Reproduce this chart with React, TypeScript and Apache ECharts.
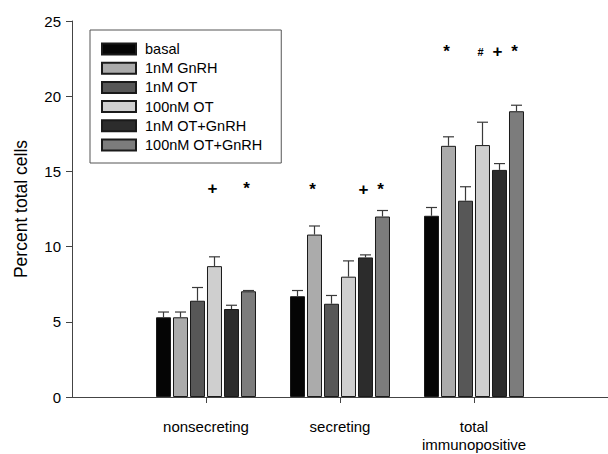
import React, { useEffect, useRef } from "react";
import * as echarts from "echarts";

const categories = ["", "nonsecreting", "secreting", "total\nimmunopositive", ""];
const seriesNames = ["basal", "1nM GnRH", "1nM OT", "100nM OT", "1nM OT+GnRH", "100nM OT+GnRH"];
// values per series for [nonsecreting, secreting, total immunopositive]
const basal = [5.3, 6.7, 12.05];
const gnrh1 = [5.3, 10.8, 16.7];
const ot1 = [6.4, 6.2, 13.05];
const ot100 = [8.7, 8.0, 16.75];
const otGnrh1 = [5.85, 9.28, 15.1];
const otGnrh100 = [7.03, 12.0, 19.0];
// upper error (SEM)
const basalErr = [0.35, 0.38, 0.55];
const gnrh1Err = [0.35, 0.57, 0.6];
const ot1Err = [0.88, 0.55, 0.93];
const ot100Err = [0.62, 1.05, 1.52];
const otGnrh1Err = [0.25, 0.17, 0.42];
const otGnrh100Err = [0.05, 0.4, 0.4];
// significance marks
const basalMarks = ["", "", ""];
const gnrh1Marks = ["", "*", "*"];
const ot1Marks = ["", "", ""];
const ot100Marks = ["+", "", "#"];
const otGnrh1Marks = ["", "+", "+"];
const otGnrh100Marks = ["*", "*", "*"];
// height (data units) at which the marks of each group are written
const markLevels = [13.85, 13.8, 22.95];

const values = [basal, gnrh1, ot1, ot100, otGnrh1, otGnrh100];
const errs = [basalErr, gnrh1Err, ot1Err, ot100Err, otGnrh1Err, otGnrh100Err];
const marks = [basalMarks, gnrh1Marks, ot1Marks, ot100Marks, otGnrh1Marks, otGnrh100Marks];
const colors = ["#050505", "#ababab", "#575757", "#cfcfcf", "#2c2c2c", "#7c7c7c"];

const FONT = "'Liberation Sans', Arial, Helvetica, sans-serif";
const BAR_W = 15;
const PITCH = 17;

export default function App() {
  const ref = useRef<HTMLDivElement>(null);
  useEffect(() => {
    if (!ref.current) return;
    const chart = echarts.init(ref.current, undefined, { renderer: "svg" });
    const barSeries: any[] = seriesNames.map((name, s) => ({
      name,
      type: "bar",
      barWidth: BAR_W,
      barGap: ((PITCH - BAR_W) / BAR_W * 100).toFixed(2) + "%",
      data: ["-", ...values[s], "-"],
      itemStyle: { color: colors[s], borderColor: "#1a1a1a", borderWidth: 1 },
      z: 2,
    }));
    const errSeries: any[] = seriesNames.map((name, s) => ({
      name: name + "_err",
      type: "custom",
      z: 3,
      data: values[s].map((v, i) => [i + 1, v, errs[s][i], i]),
      encode: { x: 0, y: 1 },
      renderItem: (params: any, api: any) => {
        const ci = api.value(0);
        const v = api.value(1);
        const e = api.value(2);
        const gi = api.value(3);
        const off = (s - 2.5) * PITCH;
        const p0 = api.coord([ci, v]);
        const p1 = api.coord([ci, v + e]);
        const x = p0[0] + off;
        const children: any[] = [
          { type: "line", shape: { x1: x, y1: p0[1], x2: x, y2: p1[1] }, style: { stroke: "#3a3a3a", lineWidth: 1.2 } },
          { type: "line", shape: { x1: x - 5.5, y1: p1[1], x2: x + 5.5, y2: p1[1] }, style: { stroke: "#3a3a3a", lineWidth: 1.2 } },
        ];
        const m = marks[s][gi];
        if (m) {
          const pm = api.coord([ci, markLevels[gi]]);
          children.push({
            type: "text",
            style: {
              x: x - 2,
              y: pm[1],
              text: m,
              fill: "#000",
              font: m === "#" ? `bold 11px ${FONT}` : `bold 17px ${FONT}`,
              align: "center",
              verticalAlign: "middle",
            },
          });
        }
        return { type: "group", children };
      },
    }));
    chart.setOption({
      animation: false,
      textStyle: { fontFamily: FONT },
      grid: { left: 72, right: 0, top: 21, bottom: 57, containLabel: false, outerBoundsMode: "none" },
      legend: {
        data: seriesNames,
        orient: "vertical",
        left: 90,
        top: 30,
        padding: [11.5, 19, 10.5, 11],
        icon: "rect",
        itemWidth: 34,
        itemHeight: 11,
        itemGap: 4.2,
        borderColor: "#555",
        borderWidth: 1,
        textStyle: { fontSize: 14.5, lineHeight: 15, color: "#000", fontFamily: FONT, padding: [0, 0, 0, 4] },
        selectedMode: false,
      },
      xAxis: {
        type: "category",
        data: categories,
        boundaryGap: false,
        axisLine: { lineStyle: { color: "#444", width: 1 } },
        axisTick: {
          length: 6,
          interval: (i: number) => i >= 1 && i <= 3,
          lineStyle: { color: "#444" },
        },
        axisLabel: {
          interval: 0,
          margin: 21,
          fontSize: 15,
          lineHeight: 17.5,
          color: "#000",
          fontFamily: FONT,
        },
      },
      yAxis: {
        type: "value",
        min: 0,
        max: 25,
        interval: 5,
        name: "Percent total cells",
        nameLocation: "middle",
        nameGap: 42,
        nameTextStyle: { fontSize: 17.5, color: "#000", fontFamily: FONT },
        axisLine: { show: true, lineStyle: { color: "#444" } },
        axisTick: { show: true, length: 6, lineStyle: { color: "#444" } },
        axisLabel: { margin: 11, fontSize: 15, color: "#000", fontFamily: FONT },
        splitLine: { show: false },
      },
      series: [...barSeries, ...errSeries],
    });
    return () => chart.dispose();
  }, []);
  return <div ref={ref} style={{ width: 608, height: 454, position: "absolute", left: 0, top: 0 }} />;
}
